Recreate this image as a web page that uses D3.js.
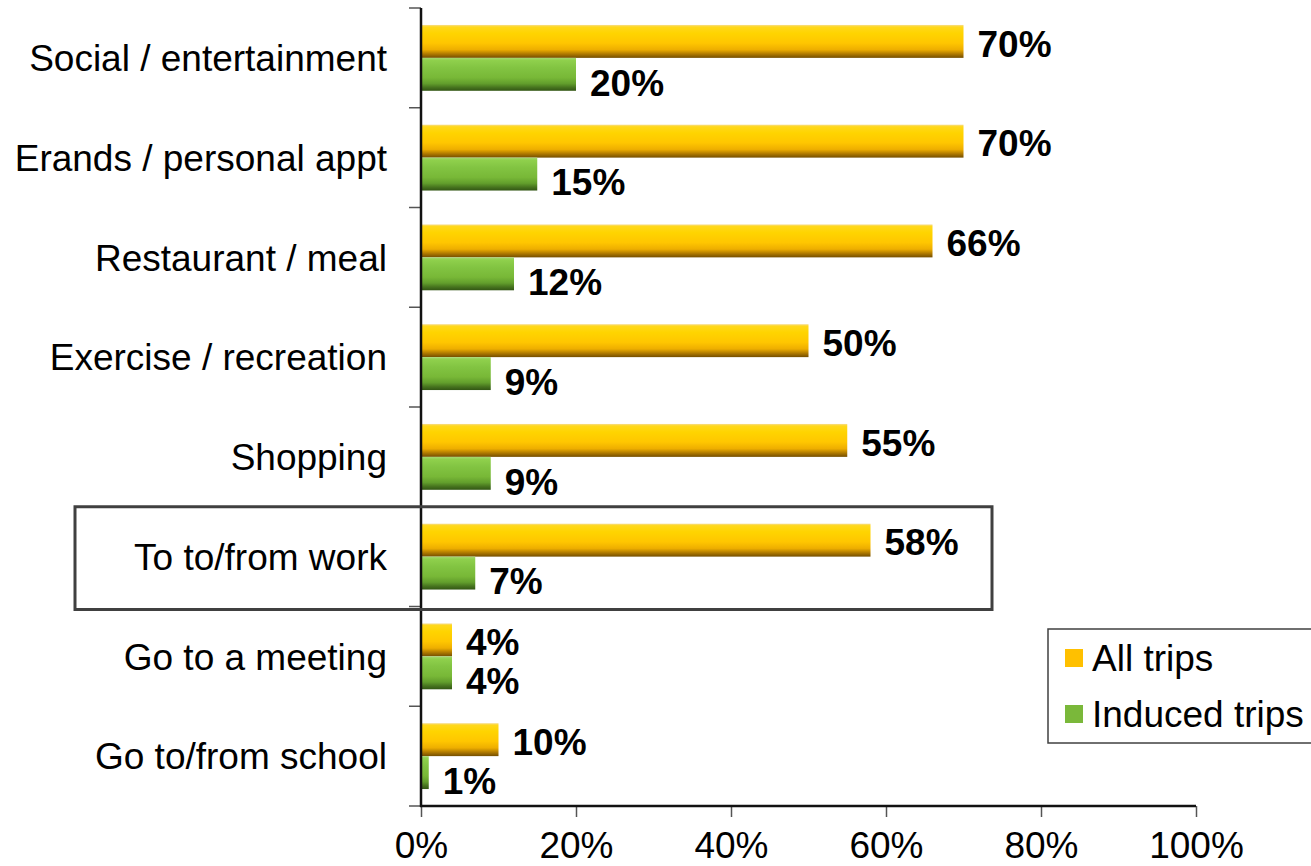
<!DOCTYPE html>
<html>
<head>
<meta charset="utf-8">
<script src="https://cdn.jsdelivr.net/npm/d3@7"></script>
<style>
  html, body { margin: 0; padding: 0; background: #fff; }
  svg { display: block; font-family: "Liberation Sans", Arial, sans-serif; }
</style>
</head>
<body>
<svg id="chart" width="1311" height="866"></svg>
<script>
// Trip purposes, top to bottom
const categories = [
  "Social / entertainment",
  "Erands / personal appt",
  "Restaurant / meal",
  "Exercise / recreation",
  "Shopping",
  "To to/from work",
  "Go to a meeting",
  "Go to/from school"
];
const allTrips     = [70, 70, 66, 50, 55, 58, 4, 10];
const inducedTrips = [20, 15, 12, 9, 9, 7, 4, 1];
const seriesNames  = ["All trips", "Induced trips"];
const xTicks       = [0, 20, 40, 60, 80, 100];
const highlighted  = "To to/from work";

const FONT = "'Liberation Sans', Arial, sans-serif";
const svg = d3.select("#chart");
const plot = { left: 421, right: 1196, top: 8, bottom: 806 };

const x = d3.scaleLinear().domain([0, 100]).range([plot.left, plot.right]);
const y = d3.scaleBand().domain(categories).range([plot.top, plot.bottom]).paddingInner(0.34).paddingOuter(0.17);
const sub = d3.scaleBand().domain(seriesNames).range([0, y.bandwidth()]);

// Cylinder-like shading for each series
const defs = svg.append("defs");
function shade(id, stops) {
  const g = defs.append("linearGradient").attr("id", id)
    .attr("x1", 0).attr("y1", 0).attr("x2", 0).attr("y2", 1);
  stops.forEach(([o, c]) => g.append("stop").attr("offset", o).attr("stop-color", c));
}
shade("gradOrange", [
  [0, "#f6dc8a"], [0.06, "#ffd81c"], [0.25, "#ffd400"], [0.55, "#ffc600"],
  [0.75, "#eeae00"], [0.88, "#b07a00"], [1, "#744e00"]
]);
shade("gradGreen", [
  [0, "#a6d870"], [0.08, "#8fd04c"], [0.3, "#82c442"], [0.6, "#78b837"],
  [0.78, "#629e2c"], [0.9, "#46731e"], [1, "#325614"]
]);

const series = [
  { name: "All trips", values: allTrips, fill: "url(#gradOrange)", swatch: "#ffc000", labelShift: 2 },
  { name: "Induced trips", values: inducedTrips, fill: "url(#gradGreen)", swatch: "#7ab83a", labelShift: 8 }
];

// Bars and their value labels
series.forEach(s => {
  const g = svg.append("g");
  g.selectAll("rect").data(categories).join("rect")
    .attr("x", x(0))
    .attr("y", c => y(c) + sub(s.name))
    .attr("width", (c, i) => x(s.values[i]) - x(0))
    .attr("height", sub.bandwidth())
    .attr("fill", s.fill);
  g.selectAll("text").data(categories).join("text")
    .attr("x", (c, i) => x(s.values[i]) + 14)
    .attr("y", c => y(c) + sub(s.name) + sub.bandwidth() / 2 + s.labelShift)
    .attr("dy", "0.36em")
    .attr("font-size", 37)
    .attr("font-weight", "bold")
    .attr("fill", "#000")
    .text((c, i) => s.values[i] + "%");
});

// Category axis: line plus tick marks at band boundaries
const yAxis = svg.append("g");
const bounds = d3.range(categories.length + 1).map(i => plot.top + i * y.step());
yAxis.selectAll("line.tick").data(bounds).join("line")
  .attr("class", "tick")
  .attr("x1", plot.left - 12).attr("x2", plot.left)
  .attr("y1", d => d).attr("y2", d => d)
  .attr("stroke", "#555").attr("stroke-width", 1.5);
yAxis.append("line")
  .attr("x1", plot.left).attr("x2", plot.left)
  .attr("y1", plot.top).attr("y2", plot.bottom + 1)
  .attr("stroke", "#111").attr("stroke-width", 2.5);
yAxis.selectAll("text").data(categories).join("text")
  .attr("x", 387)
  .attr("y", c => y(c) + y.bandwidth() / 2)
  .attr("dy", "0.36em")
  .attr("text-anchor", "end")
  .attr("font-size", 37)
  .attr("fill", "#000")
  .text(c => c);

// Value axis
const xAxis = svg.append("g").attr("transform", `translate(0,${plot.bottom})`)
  .call(d3.axisBottom(x).tickValues(xTicks).tickSize(11).tickPadding(15).tickFormat(d => d + "%"));
xAxis.select(".domain").remove();
xAxis.selectAll(".tick line").attr("stroke", "#555").attr("stroke-width", 1.5);
xAxis.selectAll(".tick text").attr("font-size", 37).attr("fill", "#000").attr("font-family", FONT);
svg.append("line")
  .attr("x1", plot.left - 1).attr("x2", plot.right)
  .attr("y1", plot.bottom).attr("y2", plot.bottom)
  .attr("stroke", "#111").attr("stroke-width", 2.5);

// Frame around the highlighted category
const hy = y(highlighted) - (y.step() - y.bandwidth()) / 2;
svg.append("rect")
  .attr("x", 75).attr("y", hy)
  .attr("width", 917).attr("height", y.step() + 3)
  .attr("fill", "none").attr("stroke", "#404040").attr("stroke-width", 3);

// Legend
const legend = svg.append("g").attr("transform", "translate(1048,629)");
legend.append("rect").attr("x", 0).attr("y", 0).attr("width", 270).attr("height", 114)
  .attr("fill", "#fff").attr("stroke", "#404040").attr("stroke-width", 1.5);
series.forEach((s, i) => {
  const row = legend.append("g").attr("transform", `translate(0,${29 + i * 56})`);
  row.append("rect").attr("x", 17).attr("y", -9).attr("width", 18).attr("height", 18).attr("fill", s.swatch);
  row.append("text").attr("x", 44).attr("y", 0).attr("dy", "0.36em")
    .attr("font-size", 37).attr("fill", "#000").text(s.name);
});
</script>
</body>
</html>
